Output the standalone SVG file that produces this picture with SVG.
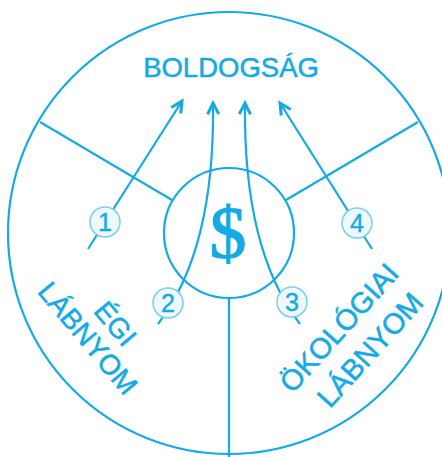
<svg xmlns="http://www.w3.org/2000/svg" width="442" height="457" viewBox="0 0 442 457">
<defs>
<style>
.ln{fill:none;stroke:#14AAE6;stroke-width:2.2}
.lbl{font-family:"Liberation Sans",Arial,sans-serif;fill:#14AAE6;stroke:#14AAE6;stroke-width:0.5;text-anchor:middle}
.num circle{fill:#EEF8FD;stroke:#7CCDF0;stroke-width:1.5}
.num text{font-family:"Liberation Sans",Arial,sans-serif;font-size:25px;fill:#14AAE6;stroke:#14AAE6;stroke-width:0.4;text-anchor:middle}
</style>
<marker id="ah" markerUnits="userSpaceOnUse" markerWidth="20" markerHeight="20" viewBox="-12 -8 16 16" refX="0" refY="0" orient="auto">
<path d="M-9,-4.5 L0,0 L-9,4.5" fill="none" stroke="#14AAE6" stroke-width="2.4"/>
</marker>
</defs>
<rect width="442" height="457" fill="#fff"/>
<g id="frame">
<circle class="ln" cx="229" cy="233" r="221"/>
<line class="ln" x1="40" y1="122" x2="172" y2="200"/>
<line class="ln" x1="418" y1="122" x2="286" y2="200"/>
<line class="ln" x1="229" y1="298" x2="229" y2="457"/>
</g>
<g id="money">
<circle class="ln" cx="229" cy="233" r="65"/>
<text x="228" y="258" font-family="'Liberation Serif','Times New Roman',serif" font-size="74" fill="#14AAE6" stroke="#14AAE6" stroke-width="1.2" text-anchor="middle">$</text>
</g>
<g id="happiness">
<text class="lbl" x="231" y="77" font-size="27.5">BOLDOGSÁG</text>
</g>
<g id="connectors">
<line class="ln" x1="88" y1="249" x2="182" y2="101" marker-end="url(#ah)"/>
<path class="ln" d="M158,324 Q215,250 213,103" marker-end="url(#ah)"/>
<path class="ln" d="M300,324 Q243,250 245,103" marker-end="url(#ah)"/>
<line class="ln" x1="372" y1="249" x2="280" y2="103" marker-end="url(#ah)"/>
</g>
<g id="n1" class="num"><circle cx="105" cy="222" r="15"/><text x="105" y="231">1</text></g>
<g id="n2" class="num"><circle cx="168" cy="303" r="15"/><text x="168" y="312">2</text></g>
<g id="n3" class="num"><circle cx="292" cy="302" r="15"/><text x="292" y="311">3</text></g>
<g id="n4" class="num"><circle cx="357" cy="223" r="15"/><text x="357" y="232">4</text></g>
<g id="egi">
<text class="lbl" font-size="28" transform="translate(108,330) rotate(50)">ÉGI</text>
<text class="lbl" font-size="28" transform="translate(80.5,344.5) rotate(50)">LÁBNYOM</text>
</g>
<g id="okologiai">
<text class="lbl" font-size="29" transform="translate(346.5,334.5) rotate(-48)">ÖKOLÓGIAI</text>
<text class="lbl" font-size="29" transform="translate(377.5,356.5) rotate(-48)">LÁBNYOM</text>
</g>
</svg>
